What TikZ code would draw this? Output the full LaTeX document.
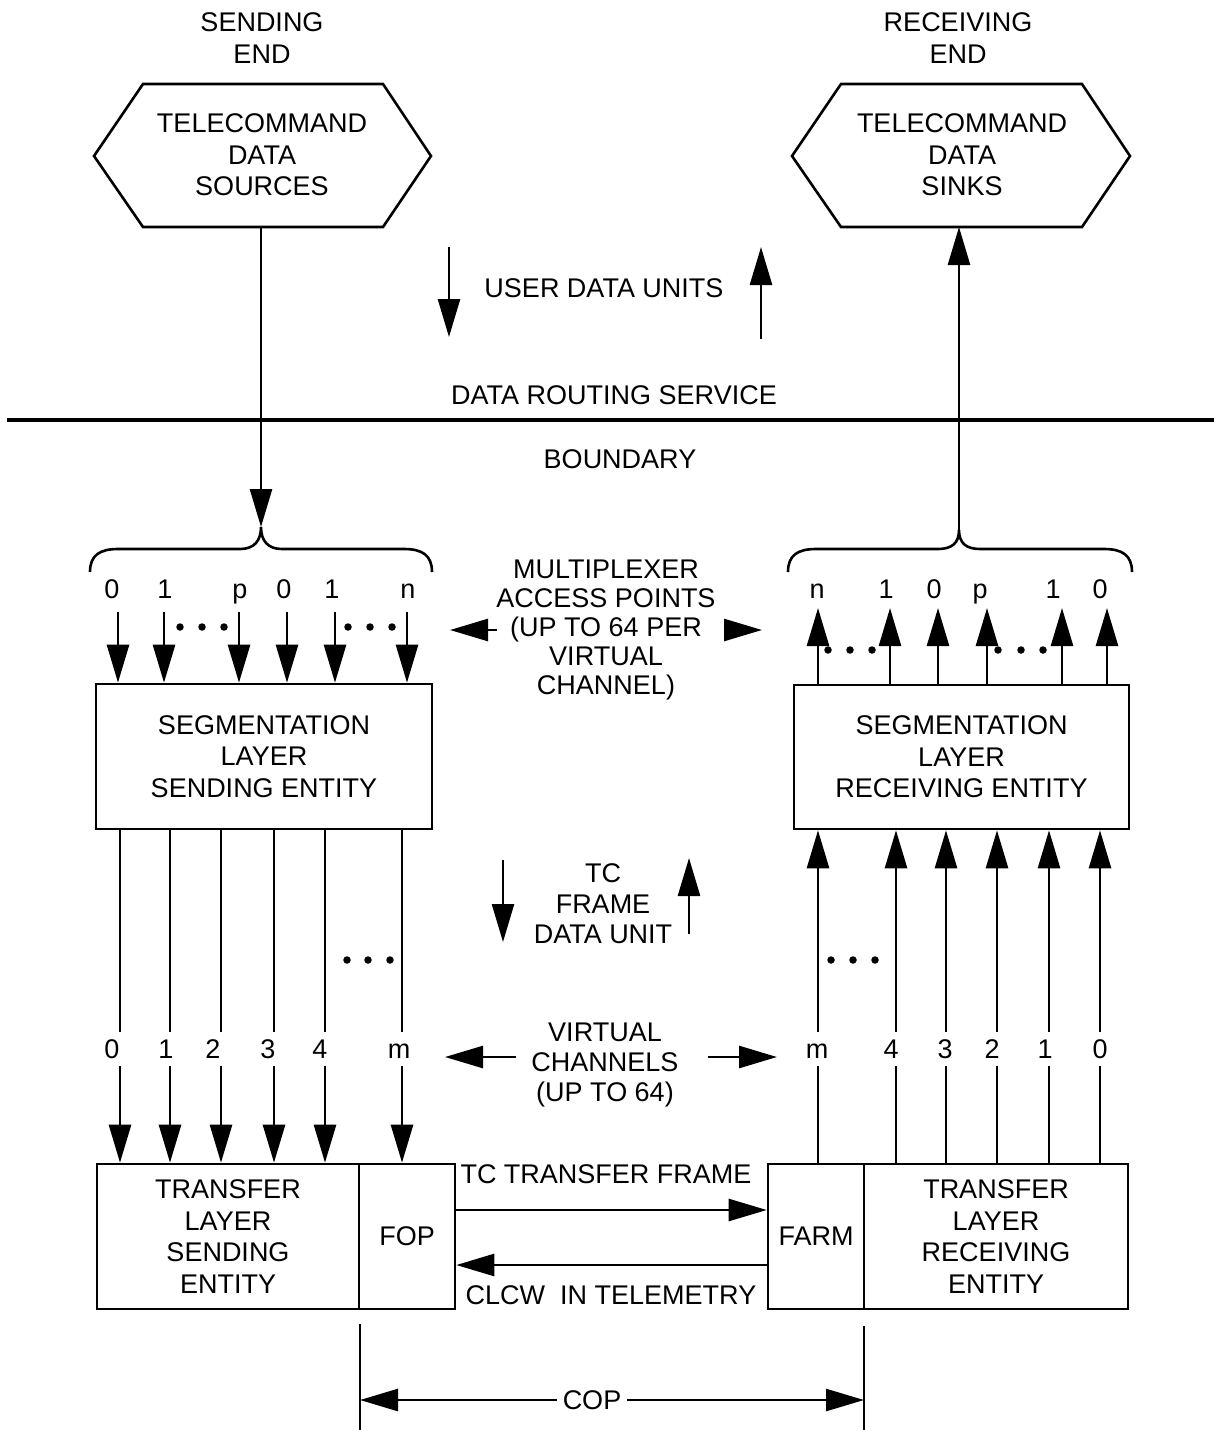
\documentclass[tikz,border=0pt]{standalone}
\usepackage{fontspec}
\setmainfont{Liberation Sans}
\usetikzlibrary{arrows.meta}
\begin{document}
\begin{tikzpicture}[x=1pt,y=-1pt,line width=2.6pt,
  arr/.style={-{Triangle[length=38pt,width=22pt]}},
  txt/.style={align=center,inner sep=0pt,font=\fontsize{27}{31.5}\selectfont},
  lab/.style={inner sep=0pt,font=\fontsize{27}{31.5}\selectfont,text height=19.3pt,text depth=0pt},
  box/.style={draw,line width=2.6pt,align=center,inner sep=0pt,font=\fontsize{27}{31.5}\selectfont},
  dotc/.style={circle,fill,inner sep=0pt,minimum size=7.5pt}]
\useasboundingbox (0,0) rectangle (1214,1430);

% top labels
\node[txt] (sendend) at (262,38) {SENDING\\END};
\node[txt] (recvend) at (958,38) {RECEIVING\\END};

% hexagons
\draw (94,156) -- (143,84) -- (383,84) -- (431,156) -- (383,227) -- (143,227) -- cycle;
\draw (792,156) -- (841,84) -- (1082,84) -- (1130,156) -- (1082,227) -- (841,227) -- cycle;
\node[txt] (src) at (262,155) {TELECOMMAND\\DATA\\SOURCES};
\node[txt] (snk) at (962,155) {TELECOMMAND\\DATA\\SINKS};

\coordinate (srcS) at (261,227);
\coordinate (lcusp) at (261,527);
\coordinate (snkS) at (959,227);
\coordinate (rcusp) at (959,530);
\draw[arr] (srcS) -- (lcusp);
\draw[arr] (rcusp) -- (snkS);

% user data units
\node[lab] (udu) at (604,288) {USER DATA UNITS};
\coordinate (uduLa) at (449,247); \coordinate (uduLb) at (449,337);
\coordinate (uduRa) at (761,339); \coordinate (uduRb) at (761,247);
\draw[arr] (uduLa) -- (uduLb);
\draw[arr] (uduRa) -- (uduRb);

% boundary
\node[lab] (drs) at (614,395) {DATA ROUTING SERVICE};
\coordinate (bndL) at (7,420); \coordinate (bndR) at (1214,420);
\draw[line width=4.2pt] (bndL) -- (bndR);
\node[lab] (bnd) at (620,459) {BOUNDARY};

% braces
\draw (90,572) .. controls (90,555) and (100,549) .. (118,549) -- (240,549)
  .. controls (254,549) and (261,541) .. (lcusp)
  .. controls (261,541) and (268,549) .. (282,549) -- (404,549)
  .. controls (422,549) and (432,555) .. (432,572);
\draw (788,572) .. controls (788,555) and (798,549) .. (816,549) -- (938,549)
  .. controls (952,549) and (959,543) .. (rcusp)
  .. controls (959,543) and (966,549) .. (980,549) -- (1104,549)
  .. controls (1122,549) and (1132,555) .. (1132,572);

% segmentation boxes
\node[box,minimum width=336pt,minimum height=145pt] (segS) at (264,756.5) {SEGMENTATION\\LAYER\\SENDING ENTITY};
\node[box,minimum width=335pt,minimum height=144pt] (segR) at (961.5,757) {SEGMENTATION\\LAYER\\RECEIVING ENTITY};

% multiplexer access points (sending)
\foreach \x/\lx/\t/\n in {118/112/0/a, 164/165/1/b, 239/240/p/c, 287/284/0/d, 335/332/1/e, 407/408/n/f} {
  \node[lab] (ms\n) at (\lx,589) {\t};
  \draw[arr] (\x,612) -- (segS.north -| \x,0);
}
% multiplexer access points (receiving)
\foreach \x/\lx/\t/\n in {818/817/n/a, 890/886/1/b, 938/934/0/c, 987/980/p/d, 1062/1053/1/e, 1107/1100/0/f} {
  \node[lab] (mr\n) at (\lx,589) {\t};
  \draw[arr] (segR.north -| \x,0) -- (\x,608);
}
\foreach \x in {180,202,224,348,370,392} \node[dotc] at (\x,627) {};
\foreach \x in {828,850,872,998,1021,1043} \node[dotc] at (\x,650) {};

\node[txt,font=\fontsize{27}{29}\selectfont] (mux) at (606,630) {MULTIPLEXER\\ACCESS POINTS\\(UP TO 64 PER\\VIRTUAL\\CHANNEL)};
\coordinate (muxL) at (450,630); \coordinate (muxR) at (762,630);
\draw[arr] ([xshift=2pt]mux.west) -- (muxL);
\draw[arr] ([xshift=10pt]mux.east) -- (muxR);

% transfer boxes
\node[box,minimum width=262pt,minimum height=145pt] (trS) at (228,1236.5) {TRANSFER\\LAYER\\SENDING\\ENTITY};
\node[box,minimum width=96pt,minimum height=145pt] (fop) at (407,1236.5) {FOP};
\node[box,minimum width=96pt,minimum height=145pt] (farm) at (816,1236.5) {FARM};
\node[box,minimum width=264pt,minimum height=145pt] (trR) at (996,1236.5) {TRANSFER\\LAYER\\RECEIVING\\ENTITY};

% virtual channels (sending)
\foreach \x/\lx/\t in {120/112/0, 170/166/1, 221/213/2, 274/268/3, 325/320/4, 402/399/m} {
  \node[lab] (vs\t) at (\lx,1049) {\t};
  \draw (segS.south -| \x,0) -- (\x,1032);
  \draw[arr] (\x,1066) -- (trS.north -| \x,0);
}
% virtual channels (receiving)
\foreach \x/\lx/\t in {818/817/m, 896/891/4, 946/945/3, 997/992/2, 1049/1045/1, 1100/1100/0} {
  \node[lab] (vr\t) at (\lx,1049) {\t};
  \draw (trR.north -| \x,0) -- (\x,1066);
  \draw[arr] (\x,1032) -- (segR.south -| \x,0);
}
\foreach \x in {347,368,390} \node[dotc] at (\x,960) {};
\foreach \x in {831,853,875} \node[dotc] at (\x,960) {};

% TC frame data unit
\node[txt,font=\fontsize{27}{30.5}\selectfont] (tcf) at (603,904) {TC\\FRAME\\DATA UNIT};
\coordinate (tcLa) at (503,860); \coordinate (tcLb) at (503,942);
\coordinate (tcRa) at (689,934); \coordinate (tcRb) at (689,858);
\draw[arr] (tcLa) -- (tcLb);
\draw[arr] (tcRa) -- (tcRb);

% virtual channels label
\node[txt,font=\fontsize{27}{30}\selectfont] (vch) at (605,1065) {VIRTUAL\\CHANNELS\\(UP TO 64)};
\coordinate (vchLa) at (516,1057); \coordinate (vchLb) at (445,1057);
\coordinate (vchRa) at (708,1057); \coordinate (vchRb) at (777,1057);
\draw[arr] (vchLa) -- (vchLb);
\draw[arr] (vchRa) -- (vchRb);

% TC transfer frame / CLCW
\node[lab] (tctf) at (606,1174) {TC TRANSFER FRAME};
\draw[arr] (fop.east |- 0,1210) -- (farm.west |- 0,1210);
\draw[arr] (farm.west |- 0,1265) -- (fop.east |- 0,1265);
\node[lab] (clcw) at (611,1295) {CLCW\ \ IN TELEMETRY};

% COP
\coordinate (copLa) at (360,1324); \coordinate (copLb) at (360,1430);
\coordinate (copRa) at (864,1326); \coordinate (copRb) at (864,1430);
\draw[line width=2.2pt] (copLa) -- (copLb);
\draw[line width=2.2pt] (copRa) -- (copRb);
\node[lab,inner xsep=4pt] (cop) at (592,1400) {COP};
\draw[arr] (cop.west) -- (copLa |- cop.west);
\draw[arr] (cop.east) -- (copRa |- cop.east);
\end{tikzpicture}
\end{document}
